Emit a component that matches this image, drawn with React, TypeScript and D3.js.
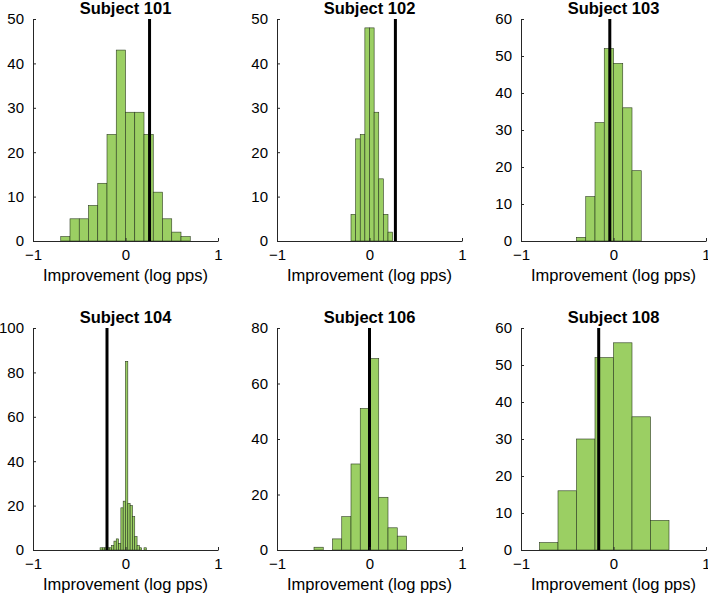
import React, { useEffect, useRef } from 'react';
import * as d3 from 'd3';

// one entry per panel
const titles = ['Subject 101', 'Subject 102', 'Subject 103', 'Subject 104', 'Subject 106', 'Subject 108'];
const binStart = [-0.7, -0.2, -0.4, -0.275, -0.6, -0.8];
const binWidth = [0.1, 0.05, 0.1, 0.025, 0.1, 0.2];
const counts101 = [1, 5, 5, 8, 13, 24, 43, 29, 29, 24, 11, 5, 2, 1];
const counts102 = [6, 23, 24, 48, 48, 29, 14, 6, 2];
const counts103 = [1, 12, 32, 52, 48, 36, 19];
const counts104 = [1, 1, 1, 1, 1, 2, 4, 5, 3, 19, 22, 85, 21, 20, 15, 6, 2, 1, 0, 1];
const counts106 = [1, 0, 4, 12, 31, 51, 69, 19, 8, 5];
const counts108 = [2, 16, 30, 52, 56, 36, 8];
const counts = [counts101, counts102, counts103, counts104, counts106, counts108];
const yMax = [50, 50, 60, 100, 80, 60];
const yStep = [10, 10, 10, 20, 20, 10];
const markers = [0.26, 0.28, -0.04, -0.2, 0.0, -0.16];
const xTicks = [-1, 0, 1];
const xLabel = 'Improvement (log pps)';

export default function App() {
  const ref = useRef<SVGSVGElement | null>(null);
  useEffect(() => {
    const svg = d3.select(ref.current);
    svg.selectAll('*').remove();
    const width = 708, height = 598;
    const colX = [33, 277, 521], rowY = [19, 328];
    const pw = 185, ph = 222;
    const font = 'Helvetica, Arial, "Liberation Sans", sans-serif';
    const axisColor = '#262626';

    svg.attr('width', width).attr('height', height);
    svg.append('rect').attr('width', width).attr('height', height).attr('fill', '#fff');

    titles.forEach((title, i) => {
      const left = colX[i % 3], top = rowY[Math.floor(i / 3)];
      const g = svg.append('g').attr('transform', `translate(${left},${top})`);
      const x = d3.scaleLinear().domain([-1, 1]).range([0, pw]);
      const y = d3.scaleLinear().domain([0, yMax[i]]).range([ph, 0]);
      const bins = counts[i].map((c, k) => ({ x0: binStart[i] + k * binWidth[i], x1: binStart[i] + (k + 1) * binWidth[i], c }));

      g.selectAll('rect.bar').data(bins.filter(b => b.c > 0)).join('rect')
        .attr('class', 'bar')
        .attr('x', d => x(d.x0))
        .attr('y', d => y(d.c))
        .attr('width', d => x(d.x1) - x(d.x0))
        .attr('height', d => y(0) - y(d.c))
        .attr('fill', '#9bcf63')
        .attr('stroke', '#2b3a1f')
        .attr('stroke-width', 0.6);

      g.append('line')
        .attr('x1', x(markers[i])).attr('x2', x(markers[i]))
        .attr('y1', 0).attr('y2', ph)
        .attr('stroke', '#000').attr('stroke-width', 3);

      // axes, matlab style: ticks point inward
      const yAxis = g.append('g').call(
        d3.axisLeft(y).tickValues(d3.range(0, yMax[i] + 1, yStep[i])).tickSizeInner(-3).tickSizeOuter(0).tickPadding(9)
      );
      const xAxis = g.append('g').attr('transform', `translate(0,${ph})`).call(
        d3.axisBottom(x).tickValues(xTicks).tickFormat(d3.format('d')).tickSizeInner(-3).tickSizeOuter(0).tickPadding(8)
      );
      [yAxis, xAxis].forEach(a => {
        a.select('.domain').attr('stroke', axisColor).attr('stroke-width', 1);
        a.selectAll('.tick line').attr('stroke', axisColor);
        a.selectAll('.tick text').attr('fill', '#000').attr('font-size', 15).attr('font-family', font);
      });
      xAxis.selectAll('.tick text').attr('dy', '0.75em');

      g.append('text')
        .attr('x', pw / 2).attr('y', -5)
        .attr('text-anchor', 'middle')
        .attr('font-family', font).attr('font-size', 16.5).attr('font-weight', 'bold')
        .text(title);

      g.append('text')
        .attr('x', pw / 2).attr('y', ph + 40)
        .attr('text-anchor', 'middle')
        .attr('font-family', font).attr('font-size', 16.5)
        .text(xLabel);
    });
  }, []);
  return <svg ref={ref} style={{ position: 'absolute', left: 0, top: 0, display: 'block' }} />;
}
